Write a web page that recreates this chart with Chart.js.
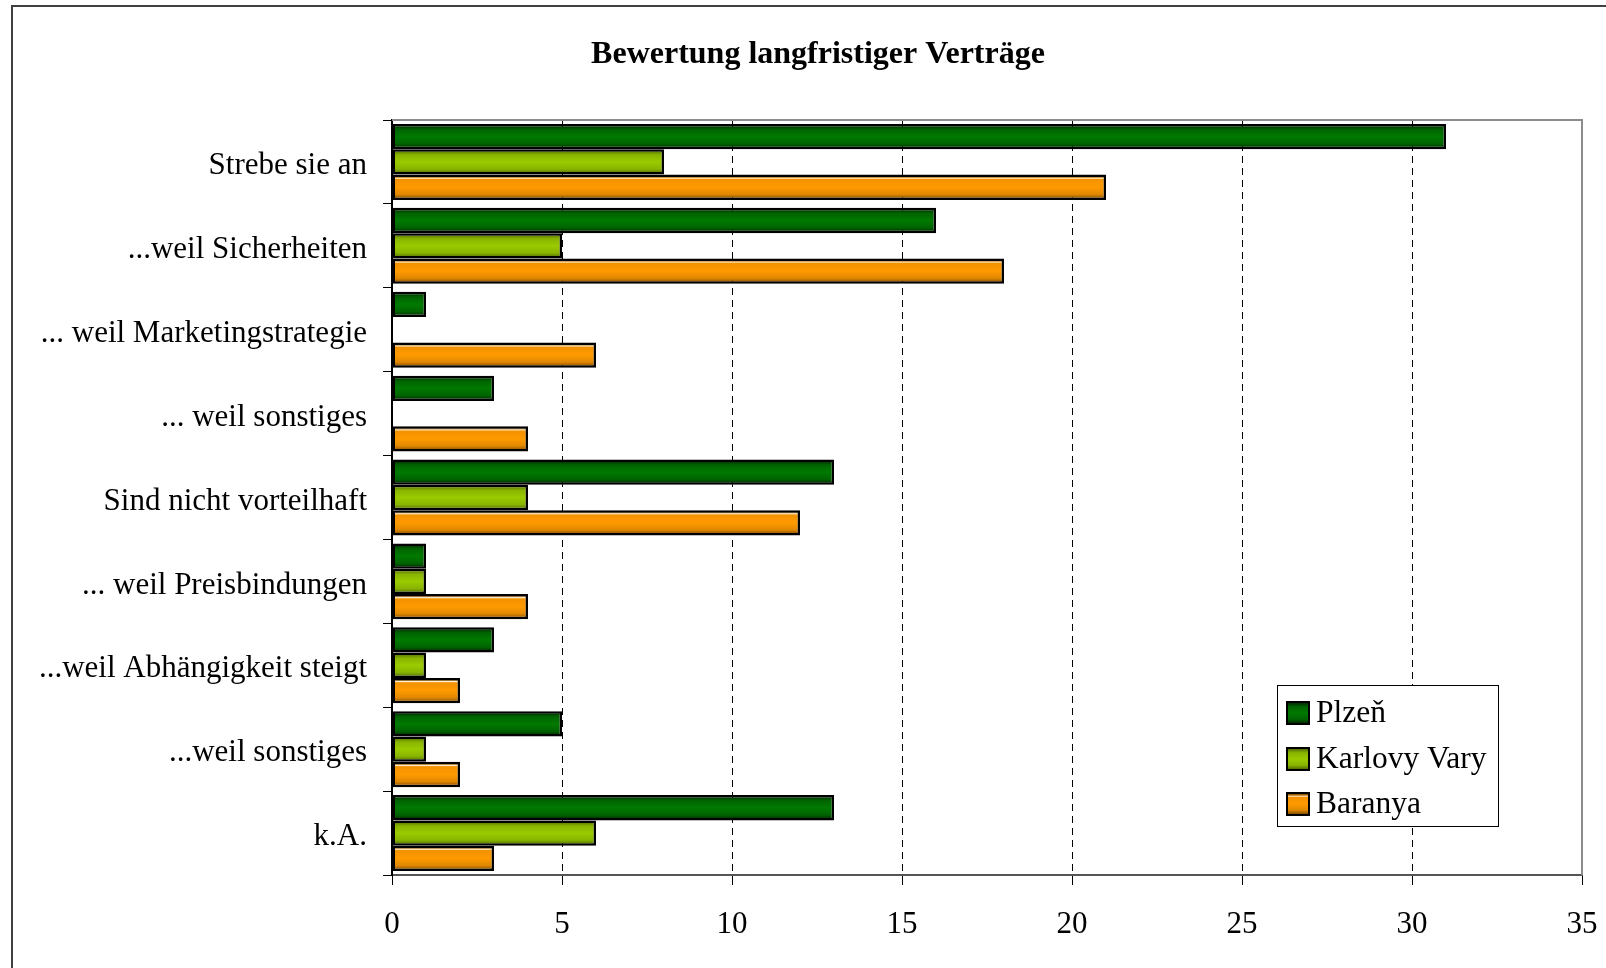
<!DOCTYPE html>
<html>
<head>
<meta charset="utf-8">
<script src="https://cdn.jsdelivr.net/npm/chart.js@4/dist/chart.umd.min.js"></script>
<style>
    body { margin: 0; background: #fff; }
    #wrap { width: 1606px; height: 968px; }
</style>
</head>
<body>
<div id="wrap"><canvas id="myChart" width="1606" height="968"></canvas></div>
<script>
const categories = [
    'Strebe sie an',
    '...weil Sicherheiten',
    '... weil Marketingstrategie',
    '... weil sonstiges',
    'Sind nicht vorteilhaft',
    '... weil Preisbindungen',
    '...weil Abhängigkeit steigt',
    '...weil sonstiges',
    'k.A.'
];
const seriesNames = ['Plzeň', 'Karlovy Vary', 'Baranya'];
const plzen = [31, 16, 1, 3, 13, 1, 3, 5, 13];
const karlovyVary = [8, 5, 0, 0, 4, 1, 1, 1, 6];
const baranya = [21, 18, 6, 4, 12, 4, 2, 2, 3];
const xMin = 0;
const xMax = 35;
const xStep = 5;
const chartTitle = 'Bewertung langfristiger Verträge';

// dark edge / light centre like the old excel bars
const shades = [
    [[0, '#001f00'], [0.22, '#006400'], [0.5, '#007a00'], [0.78, '#006400'], [1, '#001f00']],
    [[0, '#465e00'], [0.22, '#89b400'], [0.5, '#9acb00'], [0.78, '#89b400'], [1, '#465e00']],
    [[0, '#6e4000'], [0.1, '#a86400'], [0.14, '#fff1d8'], [0.19, '#f39200'], [0.5, '#ff9a00'], [0.78, '#e08800'], [1, '#6e4000']]
];
const flat = ['#007800', '#99cc00', '#ff9900'];
const serif = "'Liberation Serif', 'Times New Roman', serif";

function makeGradient(c, top, h, idx) {
    const g = c.createLinearGradient(0, top, 0, top + h);
    shades[idx].forEach(s => g.addColorStop(s[0], s[1]));
    return g;
}

const barShading = {
    id: 'barShading',
    beforeDatasetsDraw(chart) {
        chart.data.datasets.forEach((ds, i) => {
            chart.getDatasetMeta(i).data.forEach(el => {
                const p = el.getProps(['y', 'height'], true);
                el.options.backgroundColor = makeGradient(chart.ctx, p.y - p.height / 2, p.height, i);
            });
        });
    }
};

const decorations = {
    id: 'decorations',
    afterDraw(chart) {
        const c = chart.ctx;
        const a = chart.chartArea;
        c.save();
        // outer frame (only top and left visible)
        c.strokeStyle = '#404040';
        c.lineWidth = 2;
        c.beginPath();
        c.moveTo(12, 968);
        c.lineTo(12, 6);
        c.lineTo(1606, 6);
        c.stroke();
        // plot area border top + right
        c.strokeStyle = '#8c8c8c';
        c.lineWidth = 2;
        c.beginPath();
        c.moveTo(a.left, a.top);
        c.lineTo(a.right, a.top);
        c.lineTo(a.right, a.bottom);
        c.stroke();
        // title
        c.fillStyle = '#000';
        c.font = 'bold 32px ' + serif;
        c.textAlign = 'center';
        c.textBaseline = 'alphabetic';
        c.fillText(chartTitle, 818, 63);
        // legend
        const lx = 1277, ly = 685, lw = 221, lh = 141;
        c.fillStyle = '#fff';
        c.fillRect(lx, ly, lw, lh);
        c.strokeStyle = '#000';
        c.lineWidth = 1;
        c.strokeRect(lx + 0.5, ly + 0.5, lw, lh);
        const rows = [713, 759, 804];
        chart.data.datasets.forEach((ds, i) => {
            const cy = rows[i];
            c.fillStyle = makeGradient(c, cy - 11, 22, i);
            c.fillRect(1287, cy - 11, 22, 22);
            c.strokeStyle = '#000';
            c.lineWidth = 2;
            c.strokeRect(1287, cy - 11, 22, 22);
            c.fillStyle = '#000';
            c.font = '31.5px ' + serif;
            c.textAlign = 'left';
            c.textBaseline = 'alphabetic';
            c.fillText(ds.label, 1316, cy + 9);
        });
        c.restore();
    }
};

const ctx = document.getElementById('myChart');
const myChart = new Chart(ctx, {
    type: 'bar',
    data: {
        labels: categories,
        datasets: [plzen, karlovyVary, baranya].map((vals, i) => ({
            label: seriesNames[i],
            data: vals,
            backgroundColor: () => flat[i],
            borderColor: '#000',
            borderWidth: 2.5,
            borderSkipped: false,
            barPercentage: 1.0,
            categoryPercentage: 0.905
        }))
    },
    options: {
        indexAxis: 'y',
        responsive: false,
        animation: false,
        layout: { padding: { top: 120, left: 0, right: 24, bottom: 0 } },
        plugins: {
            legend: { display: false },
            title: { display: false },
            tooltip: { enabled: false }
        },
        scales: {
            x: {
                min: xMin,
                max: xMax,
                ticks: {
                    stepSize: xStep,
                    color: '#000',
                    font: { family: serif, size: 31 },
                    padding: 21
                },
                grid: {
                    color: c => (c.tick && (c.tick.value === xMin || c.tick.value === xMax)) ? 'rgba(0,0,0,0)' : '#000',
                    lineWidth: 1,
                    tickLength: 10,
                    tickColor: '#000',
                    tickWidth: 1
                },
                border: { color: '#555', width: 2, dash: [7, 5] },
                afterFit: s => { s.height = 93; s.paddingLeft = 0; s.paddingRight = 0; }
            },
            y: {
                ticks: {
                    color: '#000',
                    font: { family: serif, size: 31 },
                    padding: 16,
                    labelOffset: 4
                },
                grid: {
                    offset: true,
                    drawOnChartArea: false,
                    tickLength: 9,
                    tickColor: '#000',
                    tickWidth: 1
                },
                border: { color: '#000', width: 2 },
                afterFit: s => { s.width = 392; s.paddingTop = 0; s.paddingBottom = 0; }
            }
        }
    },
    plugins: [barShading, decorations]
});
</script>
</body>
</html>
